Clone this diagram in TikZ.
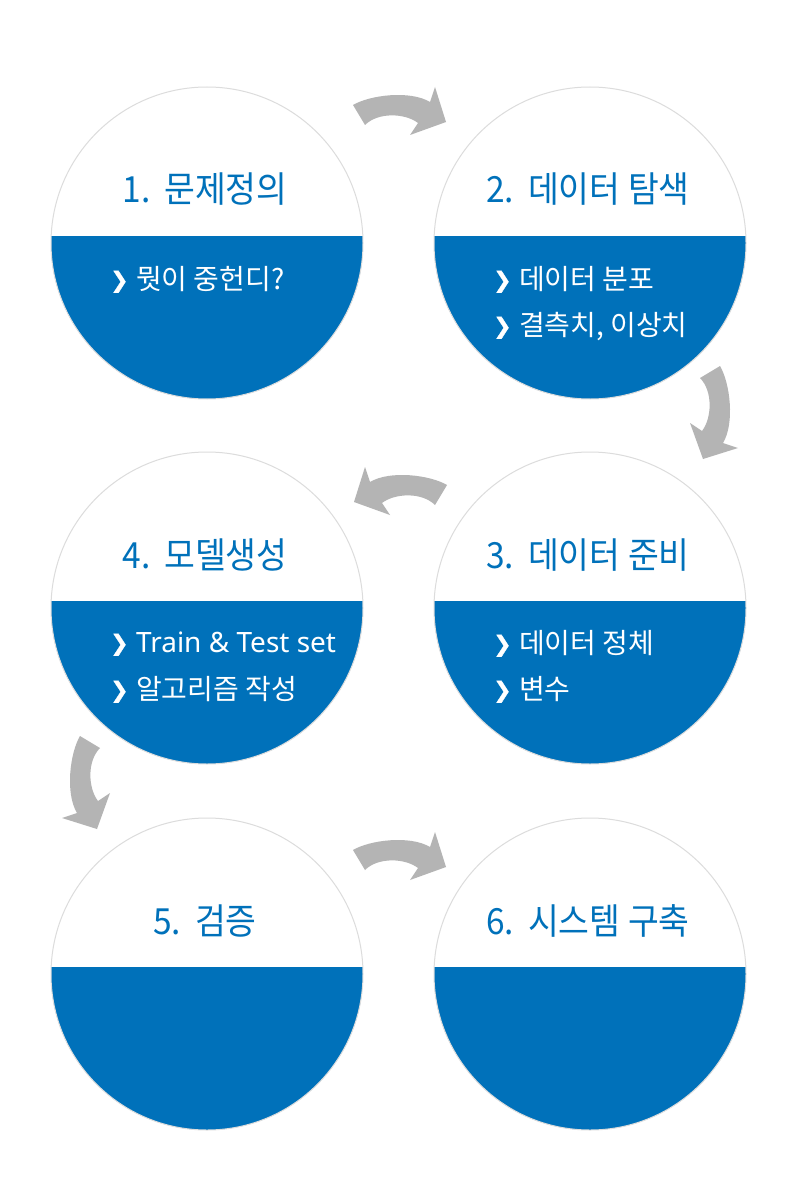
\documentclass[tikz,border=0pt]{standalone}
\usepackage{fontspec}
\setmainfont{Noto Sans CJK KR}
\newfontfamily\titlefont{Noto Sans CJK KR}[FakeStretch=0.93]
\newfontfamily\bodyfont{Noto Sans CJK KR}
\newfontfamily\latinbody{Noto Sans}
\newfontfamily\chevfont{DejaVu Sans}[FakeBold=1.5]
\definecolor{bandblue}{HTML}{0071BA}
\definecolor{ringgray}{HTML}{DCDCDC}
\definecolor{arrowgray}{HTML}{B4B4B4}
\newcommand{\mychev}{\raisebox{1.5pt}{\chevfont\fontsize{22}{26}\selectfont ❯}\hspace{7.5pt}}
\tikzset{
  stage/.style={circle, draw=ringgray, line width=1pt, minimum size=312pt, inner sep=0pt,
    path picture={\fill[bandblue] ([yshift=7.5pt]path picture bounding box.west) rectangle (path picture bounding box.south east);}},
  ttl/.style={anchor=base, inner sep=0pt, text=bandblue, font=\titlefont\fontsize{36}{40}\selectfont},
  bodyline/.style={anchor=base west, inner sep=0pt, text=white, font=\bodyfont\fontsize{28}{32}\selectfont},
  bendarrow/.pic={\fill[arrowgray] (-47,-7) .. controls (-30,-17) and (10,-22) .. (30,-10) -- (35,-25) -- (46,10) -- (10,23) -- (18,11) .. controls (5,1) and (-22,0) .. (-35,13) -- cycle;}
}
\begin{document}
\begin{tikzpicture}[x=1pt, y=-1pt]
\fill[white] (0,0) rectangle (800,1185);
\useasboundingbox (0,0) rectangle (800,1185);
% stages
\node[stage] (c1) at (207,243) {};
\node[stage] (c2) at (590,243) {};
\node[stage] (c3) at (590,608) {};
\node[stage] (c4) at (207,608) {};
\node[stage] (c5) at (207,974) {};
\node[stage] (c6) at (590,974) {};
% titles
\node[ttl] (t1) at (205,203) {1.\hspace{14pt}문제정의};
\node[ttl] (t2) at (588,203) {2.\hspace{14pt}데이터 탐색};
\node[ttl] (t3) at (588,568) {3.\hspace{14pt}데이터 준비};
\node[ttl] (t4) at (205,568) {4.\hspace{14pt}모델생성};
\node[ttl] (t5) at (205,934) {5.\hspace{14pt}검증};
\node[ttl] (t6) at (588,934) {6.\hspace{14pt}시스템 구축};
% bullets
\node[bodyline] (b11) at (110,289) {\mychev 뭣이 중헌디?};
\node[bodyline] (b21) at (493,289) {\mychev 데이터 분포};
\node[bodyline] (b22) at (493,335) {\mychev 결측치, 이상치};
\node[bodyline] (b31) at (493,653) {\mychev 데이터 정체};
\node[bodyline] (b32) at (493,699) {\mychev 변수};
\node[bodyline] (b41) at (110,652) {\mychev {\latinbody Train \& Test set}};
\node[bodyline] (b42) at (110,699) {\mychev 알고리즘 작성};
% arrows
\pic (a12) at (400,112) {bendarrow};
\pic[rotate=-90] (a23) at (713,413) {bendarrow};
\pic[xscale=-1] (a34) at (400,492) {bendarrow};
\pic[xscale=-1, rotate=-90] (a45) at (87,783) {bendarrow};
\pic (a56) at (400,857) {bendarrow};
\end{tikzpicture}
\end{document}
